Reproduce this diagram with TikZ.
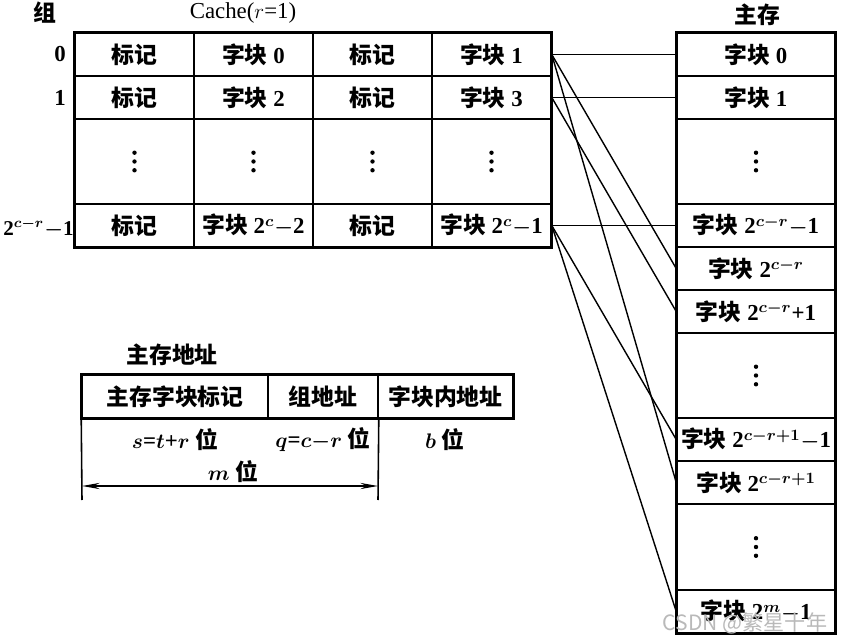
\documentclass[tikz,border=0pt]{standalone}
\usepackage{fontspec}
\setmainfont{Liberation Serif}
\newfontfamily\cjk{Noto Sans CJK SC}
\usetikzlibrary{arrows.meta}

\tikzset{
  cell/.style={draw, line width=0.9pt, inner sep=0pt, minimum width=2.38cm, minimum height=0.86cm},
  tallcell/.style={cell, minimum height=1.7cm},
  memcell/.style={cell, minimum width=3.16cm},
  tallmem/.style={memcell, minimum height=1.7cm},
  frame/.style={line width=1.6pt},
  link/.style={line width=0.8pt},
}

\begin{document}
\begin{tikzpicture}[x=0.02cm, y=-0.02cm, font=\fontsize{13}{15}\selectfont\bfseries\boldmath,
  >={Stealth[length=10pt,width=3.5pt]}]
            \useasboundingbox (0,0) rectangle (841,641);
            % titles
            \node (zu) at (45,13) {\cjk 组};
            \node[font=\fontsize{13}{15}\selectfont] (cachetitle) at (243,13) {Cache($r$=1)};
            \node (memtitle) at (757,15) {\cjk 主存};
            % cache rows
            \node[cell] (c00) at (134.5,54.5) {\cjk 标记};
            \node[cell] (c01) at (253.5,54.5) {{\cjk 字块} 0};
            \node[cell] (c02) at (372.5,54.5) {\cjk 标记};
            \node[cell] (c03) at (491.5,54.5) {{\cjk 字块} 1};
            \node[cell] (c10) at (134.5,97.5) {\cjk 标记};
            \node[cell] (c11) at (253.5,97.5) {{\cjk 字块} 2};
            \node[cell] (c12) at (372.5,97.5) {\cjk 标记};
            \node[cell] (c13) at (491.5,97.5) {{\cjk 字块} 3};
            \node[tallcell] (d0) at (134.5,161.5) {};
            \node[tallcell] (d1) at (253.5,161.5) {};
            \node[tallcell] (d2) at (372.5,161.5) {};
            \node[tallcell] (d3) at (491.5,161.5) {};
            \node[cell] (c30) at (134.5,225.5) {\cjk 标记};
            \node[cell] (c31) at (253.5,225.5) {{\cjk 字块} 2$^c$$-$2};
            \node[cell] (c32) at (372.5,225.5) {\cjk 标记};
            \node[cell] (c33) at (491.5,225.5) {{\cjk 字块} 2$^c$$-$1};
            \draw[frame] (c00.north west) rectangle (c33.south east);
            % set numbers
            \node[anchor=east] (lab0) at (72,54.5) {0};
            \node[anchor=east] (lab1) at (72,97.5) {1};
            \node[anchor=west, inner xsep=0pt, font=\fontsize{12}{14}\selectfont\bfseries\boldmath]
              (labn) at (3,228) {2$^{c{-}r}$$-$1};
            % main memory
            \node[memcell] (m0) at (756,54.5) {{\cjk 字块} 0};
            \node[memcell] (m1) at (756,97.5) {{\cjk 字块} 1};
            \node[tallmem] (md1) at (756,161.5) {};
            \node[memcell] (mA) at (756,225.5) {{\cjk 字块} 2$^{c{-}r}$$-$1};
            \node[memcell] (mB) at (756,268.5) {{\cjk 字块} 2$^{c{-}r}$};
            \node[memcell] (mC) at (756,311.5) {{\cjk 字块} 2$^{c{-}r}$+1};
            \node[tallmem] (md2) at (756,375.5) {};
            \node[memcell] (mD) at (756,439.5) {{\cjk 字块} 2$^{c{-}r{+}1}$$-$1};
            \node[memcell] (mE) at (756,482.5) {{\cjk 字块} 2$^{c{-}r{+}1}$};
            \node[tallmem] (md3) at (756,547) {};
            \node[memcell] (mF) at (756,611.5) {{\cjk 字块} 2$^m$$-$1};
            \draw[frame] (m0.north west) rectangle (mF.south east);
            % dots
            \foreach \n in {d0,d1,d2,d3,md1,md2,md3}
              \foreach \dy in {-5pt,0pt,5pt}
                \fill ([yshift=\dy]\n.center) circle (2.2);
            % mapping lines
            \draw[link] (c03.east) -- (m0.west);
            \draw[link] (c03.east) -- (mB.west);
            \draw[link] (c03.east) -- (mE.west);
            \draw[link] (c13.east) -- (m1.west);
            \draw[link] (c13.east) -- (mC.west);
            \draw[link] (c33.east) -- (mA.west);
            \draw[link] (c33.east) -- (mD.west);
            \draw[link] (c33.east) -- (mF.west);
            % main memory address
            \node (addrtitle) at (172,355) {\cjk 主存地址};
            \node[cell, minimum width=3.72cm] (tagf) at (175,396.5) {\cjk 主存字块标记};
            \node[cell, minimum width=2.2cm] (setf) at (323,396.5) {\cjk 组地址};
            \node[cell, minimum width=2.7cm] (wordf) at (445.5,396.5) {\cjk 字块内地址};
            \draw[frame] (tagf.north west) rectangle (wordf.south east);
            \node (sbits) at (175,440) {$s$=$t$+$r$ {\cjk 位}};
            \node (qbits) at (323,440) {$q$=$c$$-$$r$ {\cjk 位}};
            \node (bbits) at (445,440) {$b$ {\cjk 位}};
            \coordinate (mL) at (82,500);
            \coordinate (mR) at (378,500);
            \coordinate (aL) at (82,486);
            \coordinate (aR) at (378,486);
            \draw[line width=0.9pt] (tagf.south west) -- (mL);
            \draw[line width=0.9pt] (setf.south east) -- (mR);
            \draw[<->, line width=0.8pt] (aL) -- (aR);
            \node (mbits) at (233,472) {$m$ {\cjk 位}};
            % watermark
            \node[text=gray!55, font=\fontsize{12}{14}\selectfont\cjk] (wm) at (745,623) {CSDN @繁星十年};
        \end{tikzpicture}
\end{document}
